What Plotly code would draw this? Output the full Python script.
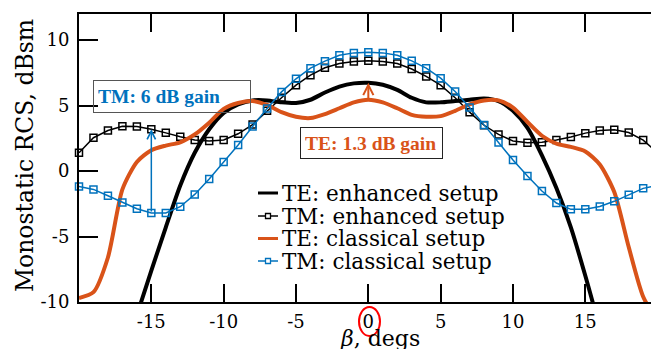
import plotly.graph_objects as go

# Incidence angle (degrees) and monostatic RCS (dBsm) for each configuration
angles = list(range(-20, 21))

te_enhanced = [None, None, None, None,
               -11.0, -7.6, -4.3, -1.1, 1.4, 3.2, 4.45, 5.1, 5.4, 5.4, 5.25, 5.2,
               5.45, 6.0, 6.45, 6.7, 6.75, 6.6, 6.2, 5.6, 5.25, 5.25, 5.35, 5.45,
               5.55, 5.35, 4.6, 3.3, 1.2, -1.3, -4.3, -8.0, -12.0,
               None, None, None, None]

tm_enhanced = [1.4, 2.55, 3.1, 3.42, 3.4, 3.2, 2.92, 2.62, 2.38, 2.3,
               2.38, 2.85, 3.55, 4.6, 5.6, 6.56, 7.33, 7.89, 8.22, 8.37,
               8.42,
               8.37, 8.22, 7.8, 7.23, 6.56, 5.6, 4.5, 3.5, 2.8, 2.3,
               2.17, 2.2, 2.37, 2.6, 2.9, 3.1, 3.15, 2.95, 2.37, 1.4]

te_classical = [-9.7, -9.25, -6.6, -1.4, 0.7, 1.6, 1.95, 2.2, 2.8, 3.7,
                4.75, 5.2, 5.35, 5.05, 4.5, 4.15, 4.05, 4.35, 4.8, 5.25,
                5.45,
                5.25, 4.8, 4.3, 4.15, 4.2, 4.6, 5.1, 5.4, 5.4, 4.85,
                3.75, 2.7, 2.1, 1.85, 1.5, 0.5, -1.6, -5.8, -9.6, -11.5]

tm_classical = [-1.17, -1.4, -1.88, -2.4, -2.88, -3.2, -3.2, -2.72, -1.78, -0.6,
                0.7, 2.0, 3.4, 4.79, 6.05, 7.05, 7.86, 8.4, 8.85, 9.03,
                9.08,
                9.03, 8.85, 8.42, 7.86, 7.1, 6.08, 4.86, 3.53, 2.18, 0.84,
                -0.38, -1.52, -2.44, -2.92, -2.92, -2.71, -2.31, -1.8, -1.32, -1.1]

series_names = ["TE: enhanced setup", "TM: enhanced setup",
                "TE: classical setup", "TM: classical setup"]

x_ticks = [-15, -10, -5, 0, 5, 10, 15]
x_tick_labels = ["-15", "-10", "-5", "0", "5", "10", "15"]
y_ticks = [-10, -5, 0, 5, 10]
y_tick_labels = ["-10", "-5", "0", "5", "10"]

# Angles at which the gains are annotated
tm_gain_angle = -15
te_gain_angle = 0

BLACK = "#000000"
ORANGE = "#D95319"
BLUE = "#0072BD"
SERIF = "DejaVu Serif"
BOLD_SERIF = "Liberation Serif, Times New Roman, serif"

# Plot-area geometry in pixels (used to place layout items)
W, H = 651, 349
ML, MR, MT, MB = 79, 0, 14, 47
PW, PH = W - ML - MR, H - MT - MB


def px(xp):
    return (xp - ML) / PW


def py(yp):
    return (H - MB - yp) / PH


styles = [
    dict(color=BLACK, width=4, marker=False),
    dict(color=BLACK, width=1.5, marker=True),
    dict(color=ORANGE, width=4, marker=False),
    dict(color=BLUE, width=1.5, marker=True),
]
values = [te_enhanced, tm_enhanced, te_classical, tm_classical]

fig = go.Figure()
for name, ys, st in zip(series_names, values, styles):
    if st["marker"]:
        fig.add_trace(go.Scatter(
            x=angles, y=ys, name=name, mode="lines+markers",
            line=dict(color=st["color"], width=st["width"]),
            marker=dict(symbol="square-open", size=7, color=st["color"],
                        line=dict(width=1.5, color=st["color"])),
            cliponaxis=False))
    else:
        fig.add_trace(go.Scatter(
            x=angles, y=ys, name=name, mode="lines",
            line=dict(color=st["color"], width=st["width"],
                      shape="spline", smoothing=0.7)))

i_tm = angles.index(tm_gain_angle)
i_te = angles.index(te_gain_angle)

annotations = [
    # gain arrows between classical and enhanced setups
    dict(x=tm_gain_angle, y=tm_enhanced[i_tm], ax=tm_gain_angle, ay=tm_classical[i_tm],
         xref="x", yref="y", axref="x", ayref="y", text="", showarrow=True,
         arrowhead=5, arrowsize=1.1, arrowwidth=1.5, arrowcolor=BLUE, standoff=0),
    dict(x=te_gain_angle, y=te_enhanced[i_te], ax=te_gain_angle, ay=te_classical[i_te],
         xref="x", yref="y", axref="x", ayref="y", text="", showarrow=True,
         arrowhead=5, arrowsize=1.0, arrowwidth=2, arrowcolor=ORANGE, standoff=0),
    # gain labels
    dict(x=px(93), y=py(80), xref="paper", yref="paper", xanchor="left", yanchor="top",
         text="<b>TM: 6 dB gain</b>", showarrow=False, align="left",
         width=148, height=23, borderpad=4, borderwidth=1, bordercolor="#555555",
         font=dict(family=BOLD_SERIF, size=19.5, color=BLUE)),
    dict(x=px(300), y=py(127), xref="paper", yref="paper", xanchor="left", yanchor="top",
         text="<b>TE: 1.3 dB gain</b>", showarrow=False, align="left",
         width=133, height=22, borderpad=4, borderwidth=1, bordercolor="#222222",
         font=dict(family=BOLD_SERIF, size=19.5, color=ORANGE)),
    # axis titles
    dict(x=px(25), y=py(156), xref="paper", yref="paper", xanchor="center", yanchor="middle",
         text="Monostatic RCS, dBsm", textangle=-90, showarrow=False,
         font=dict(family=SERIF, size=23.5, color=BLACK)),
    dict(x=px(379.5), y=py(338), xref="paper", yref="paper", xanchor="center", yanchor="middle",
         text="<i>β</i>, degs", showarrow=False,
         font=dict(family=SERIF, size=22, color=BLACK)),
]

shapes = [
    # red ring around the zero-angle tick label
    dict(type="circle", xref="paper", yref="paper",
         x0=px(359), x1=px(380), y0=py(336), y1=py(307),
         line=dict(color="#FF0000", width=2)),
]

# legend: short line samples with markers and text
legend_rows = [193, 216, 238.5, 261]
for name, st, row in zip(series_names, styles, legend_rows):
    shapes.append(dict(type="line", xref="paper", yref="paper",
                       x0=px(258), x1=px(278), y0=py(row), y1=py(row),
                       line=dict(color=st["color"], width=3 if not st["marker"] else 1.5)))
    if st["marker"]:
        shapes.append(dict(type="rect", xref="paper", yref="paper",
                           x0=px(265.5), x1=px(270.5), y0=py(row + 2.5), y1=py(row - 2.5),
                           line=dict(color=st["color"], width=1.3), fillcolor="white"))
    annotations.append(dict(x=px(280), y=py(row), xref="paper", yref="paper",
                            xanchor="left", yanchor="middle", text=name, showarrow=False,
                            font=dict(family=SERIF, size=21.5, color=BLACK)))

fig.update_layout(
    width=W, height=H,
    margin=dict(l=ML, r=MR, t=MT, b=MB, pad=0),
    plot_bgcolor="white", paper_bgcolor="white",
    showlegend=False,
    font=dict(family=SERIF, size=18, color=BLACK),
    annotations=annotations,
    shapes=shapes,
    xaxis=dict(range=[-20, 19.54], tickmode="array", tickvals=x_ticks, ticktext=x_tick_labels,
               ticks="inside", ticklen=18, tickwidth=1.5, tickcolor=BLACK,
               showline=True, linewidth=2, linecolor=BLACK, mirror="ticks",
               showgrid=False, zeroline=False, ticklabelstandoff=2,
               tickfont=dict(family=SERIF, size=18)),
    yaxis=dict(range=[-10, 12], tickmode="array", tickvals=y_ticks, ticktext=y_tick_labels,
               ticks="inside", ticklen=19, tickwidth=1.5, tickcolor=BLACK,
               showline=True, linewidth=2, linecolor=BLACK, mirror=False,
               showgrid=False, zeroline=False, ticklabelstandoff=4,
               tickfont=dict(family=SERIF, size=18)),
    yaxis2=dict(range=[-10, 12], overlaying="y", side="right", anchor="x",
                tickmode="array", tickvals=y_ticks, showticklabels=False,
                ticks="inside", ticklen=12, tickwidth=1.5, tickcolor=BLACK,
                showline=False, showgrid=False, zeroline=False),
)

fig.write_html("out.html")
